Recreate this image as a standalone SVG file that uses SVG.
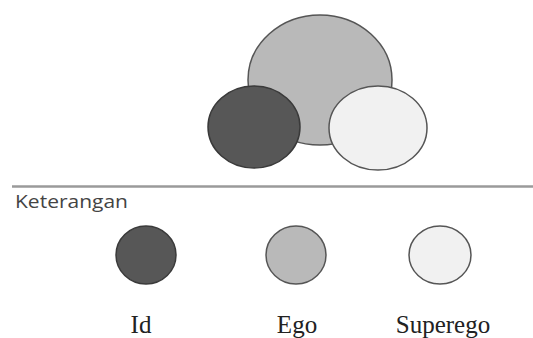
<svg xmlns="http://www.w3.org/2000/svg" width="533" height="338" viewBox="0 0 533 338">
<defs>
<style>
.id{fill:#575757;stroke:#3a3a3a;stroke-width:1.5}
.ego{fill:#b9b9b9;stroke:#555;stroke-width:1.5}
.sup{fill:#f1f1f1;stroke:#555;stroke-width:1.5}
.lbl{font-family:"Liberation Serif","Times New Roman",serif;font-size:25px;fill:#222;text-anchor:middle}
.ket{font-family:"Open Sans","DejaVu Sans",sans-serif;font-size:18px;fill:#444}
</style>
</defs>
<rect width="533" height="338" fill="#fff"/>
<g id="venn">
<g id="ego-big"><ellipse class="ego" cx="320" cy="80" rx="72" ry="65"/></g>
<g id="id-big"><ellipse class="id" cx="254" cy="127" rx="46" ry="41"/></g>
<g id="superego-big"><ellipse class="sup" cx="378" cy="128" rx="49" ry="42"/></g>
</g>
<g id="divider"><line x1="12" y1="186.5" x2="533" y2="186.5" stroke="#9a9a9a" stroke-width="2.5"/></g>
<text class="ket" x="15" y="208" textLength="113" lengthAdjust="spacingAndGlyphs">Keterangan</text>
<g id="legend-id">
<ellipse class="id" cx="146" cy="255" rx="30" ry="29"/>
<text class="lbl" x="141" y="333">Id</text>
</g>
<g id="legend-ego">
<ellipse class="ego" cx="296" cy="255" rx="30" ry="29"/>
<text class="lbl" x="297" y="333">Ego</text>
</g>
<g id="legend-superego">
<ellipse class="sup" cx="440" cy="255" rx="31" ry="29"/>
<text class="lbl" x="443" y="333">Superego</text>
</g>
</svg>
